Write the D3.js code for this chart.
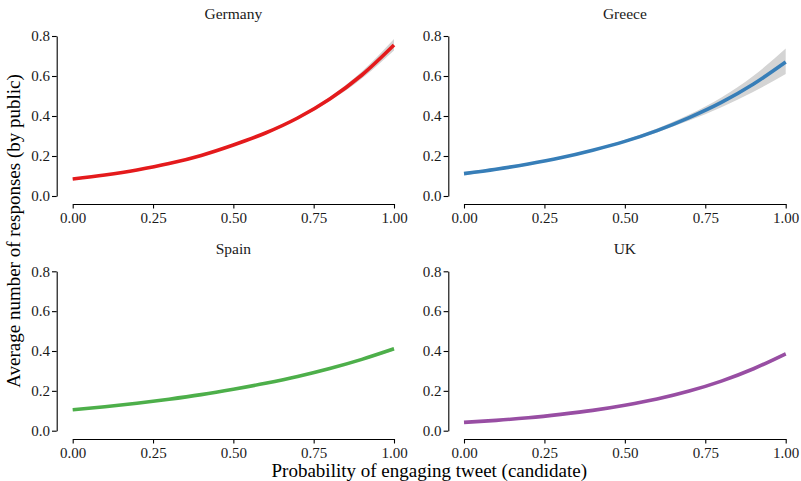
<!DOCTYPE html>
<html>
<head>
<meta charset="utf-8">
<script src="https://cdn.jsdelivr.net/npm/d3@7"></script>
<style>
  html, body { margin: 0; padding: 0; background: #fff; }
  svg { display: block; }
  svg text { font-family: "Liberation Serif", "Times New Roman", Times, serif !important; }
</style>
</head>
<body>
<svg id="chart" width="801" height="481" font-family="Liberation Serif, serif"></svg>
<script>
// ---- data ----
const xValues = [0, 0.1, 0.2, 0.3, 0.4, 0.5, 0.6, 0.7, 0.8, 0.9, 1.0];
const countries = ["Germany", "Greece", "Spain", "UK"];
const germanyMean = [0.085, 0.105, 0.130, 0.162, 0.203, 0.255, 0.315, 0.390, 0.485, 0.605, 0.755];
const germanyLow  = [0.081, 0.102, 0.127, 0.159, 0.199, 0.250, 0.309, 0.383, 0.475, 0.588, 0.728];
const germanyHigh = [0.089, 0.108, 0.133, 0.165, 0.207, 0.260, 0.321, 0.397, 0.495, 0.622, 0.785];
const greeceMean  = [0.112, 0.134, 0.160, 0.191, 0.229, 0.273, 0.327, 0.392, 0.468, 0.560, 0.670];
const greeceLow   = [0.104, 0.127, 0.154, 0.186, 0.224, 0.267, 0.318, 0.377, 0.444, 0.521, 0.610];
const greeceHigh  = [0.120, 0.141, 0.166, 0.196, 0.234, 0.280, 0.337, 0.407, 0.493, 0.601, 0.738];
const spainMean   = [0.105, 0.120, 0.138, 0.158, 0.181, 0.208, 0.238, 0.272, 0.312, 0.358, 0.411];
const spainLow    = [0.103, 0.118, 0.136, 0.156, 0.179, 0.206, 0.235, 0.268, 0.307, 0.352, 0.403];
const spainHigh   = [0.107, 0.122, 0.140, 0.160, 0.183, 0.210, 0.241, 0.276, 0.317, 0.364, 0.419];
const ukMean      = [0.042, 0.052, 0.065, 0.082, 0.102, 0.128, 0.159, 0.199, 0.249, 0.311, 0.386];
const ukLow       = [0.041, 0.051, 0.064, 0.081, 0.101, 0.126, 0.157, 0.196, 0.245, 0.305, 0.378];
const ukHigh      = [0.043, 0.053, 0.066, 0.083, 0.103, 0.130, 0.161, 0.202, 0.253, 0.317, 0.394];
const lineColors  = ["#E41A1C", "#377EB8", "#4DAF4A", "#984EA3"];
const xTicks = [0, 0.25, 0.5, 0.75, 1.0];
const yTicks = [0, 0.2, 0.4, 0.6, 0.8];
const xTitle = "Probability of engaging tweet (candidate)";
const yTitle = "Average number of responses (by public)";

const seriesMean = [germanyMean, greeceMean, spainMean, ukMean];
const seriesLow  = [germanyLow, greeceLow, spainLow, ukLow];
const seriesHigh = [germanyHigh, greeceHigh, spainHigh, ukHigh];

// ---- layout ----
const FONT = "Liberation Serif, Times New Roman, serif";
const cols = [{x0: 72.7, x1: 394, yAxisX: 56.7}, {x0: 464, x1: 785.7, yAxisX: 448.3}];
const rows = [{y0: 196, y1: 36, xAxisY: 204, titleY: 19.3}, {y0: 430.7, y1: 271.3, xAxisY: 439, titleY: 253.5}];

const svg = d3.select("#chart");

countries.forEach((name, i) => {
  const c = cols[i % 2], r = rows[Math.floor(i / 2)];
  const x = d3.scaleLinear().domain([0, 1]).range([c.x0, c.x1]);
  const y = d3.scaleLinear().domain([0, 0.8]).range([r.y0, r.y1]);
  const g = svg.append("g");

  const pts = xValues.map((xv, k) => ({x: xv, m: seriesMean[i][k], lo: seriesLow[i][k], hi: seriesHigh[i][k]}));

  g.append("path")
    .datum(pts)
    .attr("fill", "#d4d4d4")
    .attr("d", d3.area().curve(d3.curveMonotoneX).x(d => x(d.x)).y0(d => y(d.lo)).y1(d => y(d.hi)));

  g.append("path")
    .datum(pts)
    .attr("fill", "none")
    .attr("stroke", lineColors[i])
    .attr("stroke-width", 3.6)
    .attr("d", d3.line().curve(d3.curveMonotoneX).x(d => x(d.x)).y(d => y(d.m)));

  const ya = g.append("g")
    .attr("transform", `translate(${c.yAxisX},0)`)
    .call(d3.axisLeft(y).tickValues(yTicks).tickFormat(d3.format(".1f")).tickSizeInner(4.7).tickSizeOuter(0).tickPadding(2));
  const xa = g.append("g")
    .attr("transform", `translate(0,${r.xAxisY})`)
    .call(d3.axisBottom(x).tickValues(xTicks).tickFormat(d3.format(".2f")).tickSizeInner(4.5).tickSizeOuter(0).tickPadding(4.3));
  [ya, xa].forEach(a => {
    a.attr("font-family", FONT).attr("font-size", 15);
    a.select(".domain").attr("stroke", "#000").attr("stroke-width", 1.1);
    a.selectAll(".tick line").attr("stroke", "#000").attr("stroke-width", 1.1);
    a.selectAll(".tick text").attr("fill", "#1a1a1a").attr("font-family", FONT).style("font-size", "15px");
  });

  g.append("text")
    .attr("x", (c.x0 + c.x1) / 2)
    .attr("y", r.titleY)
    .attr("text-anchor", "middle")
    .attr("fill", "#1a1a1a")
    .attr("font-family", FONT)
    .style("font-size", "15.5px")
    .text(name);
});

svg.append("text")
  .attr("x", 429.3).attr("y", 476.5)
  .attr("text-anchor", "middle")
  .attr("fill", "#000")
  .attr("font-family", FONT)
  .style("font-size", "19px")
  .text(xTitle);

svg.append("text")
  .attr("transform", "translate(20,231) rotate(-90)")
  .attr("text-anchor", "middle")
  .attr("fill", "#000")
  .attr("font-family", FONT)
  .style("font-size", "19px")
  .text(yTitle);
</script>
</body>
</html>
